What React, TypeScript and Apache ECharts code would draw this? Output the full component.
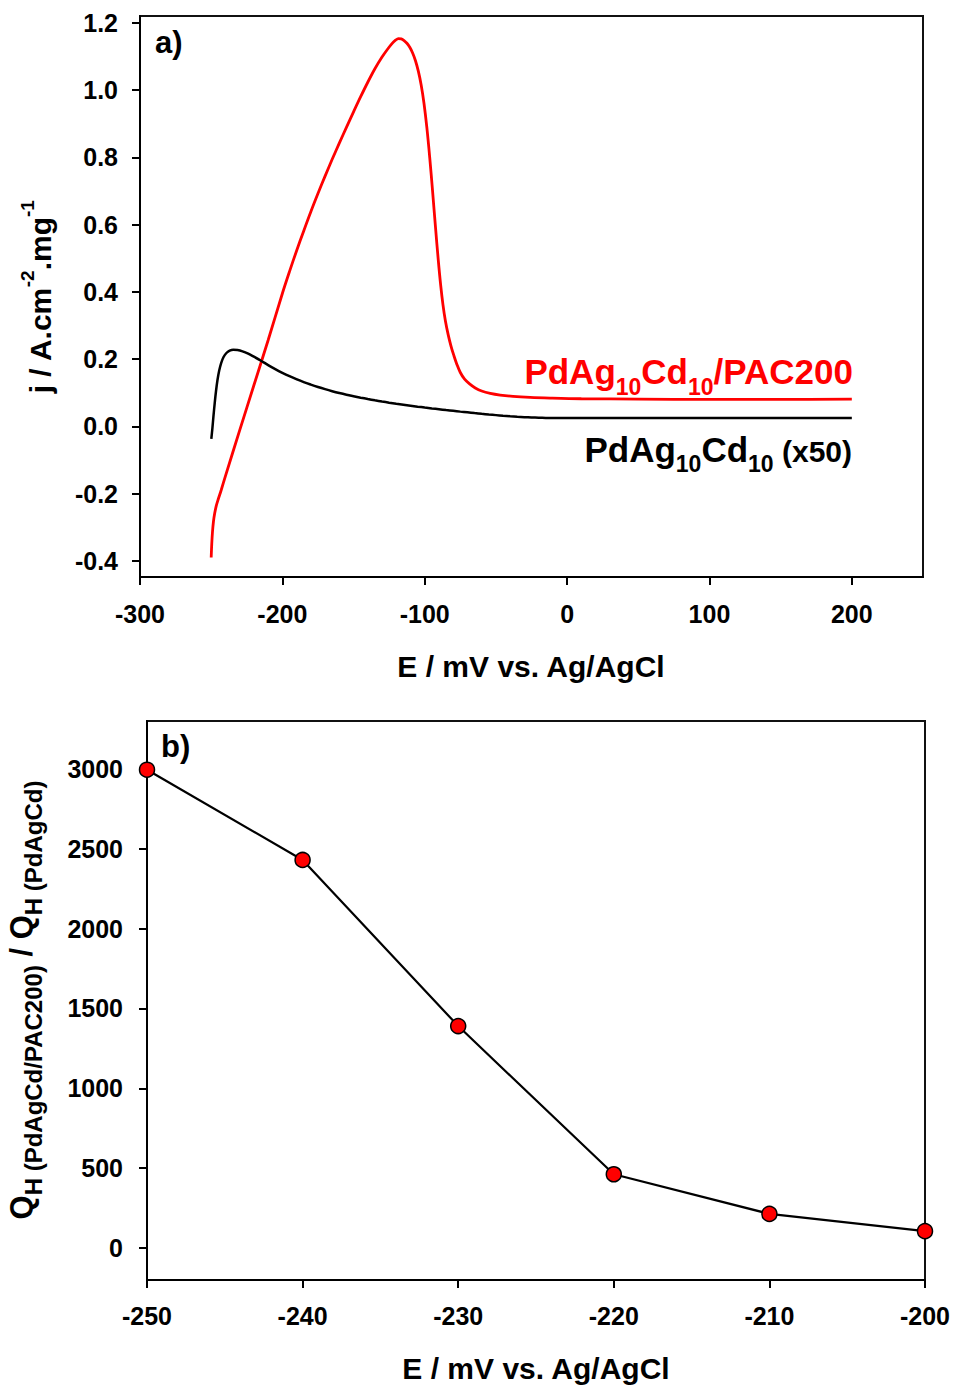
import React, { useEffect, useRef } from "react";
import * as echarts from "echarts";

const FONT = '"Liberation Sans", Arial, Helvetica, sans-serif';

// ---------- Panel a) : j vs E ----------
const aXTicks = [-300, -200, -100, 0, 100, 200];
const aYTicks = [-0.4, -0.2, 0, 0.2, 0.4, 0.6, 0.8, 1.0, 1.2];

// PdAg10Cd10/PAC200 (red)  [E / mV, j / A cm-2 mg-1]
const redCurve: [number, number][] = [
  [-250, -0.39], [-249.6, -0.35], [-249.1, -0.315], [-248.4, -0.283], [-247.5, -0.258],
  [-246.4, -0.236], [-245, -0.216], [-243, -0.19], [-240, -0.148], [-230, -0.012],
  [-220, 0.122], [-210, 0.256], [-200, 0.395], [-195, 0.46], [-190, 0.522],
  [-185, 0.581], [-180, 0.638], [-175, 0.692], [-170, 0.744], [-165, 0.794],
  [-160, 0.842], [-155, 0.889], [-150, 0.935], [-145, 0.98], [-140, 1.023],
  [-135, 1.063], [-130, 1.098], [-126, 1.122], [-123, 1.138], [-120.5, 1.148],
  [-118.5, 1.153], [-116.5, 1.152], [-114.5, 1.147], [-112.5, 1.139], [-110.5, 1.127],
  [-108.5, 1.11], [-106.5, 1.087], [-104.5, 1.056], [-102.5, 1.015], [-100.5, 0.96],
  [-98.5, 0.888], [-96.5, 0.8], [-94.5, 0.7], [-92.5, 0.595], [-90.5, 0.495],
  [-88.8, 0.42], [-87.2, 0.362], [-85.5, 0.314], [-83.5, 0.272], [-81.5, 0.238],
  [-79.5, 0.21], [-77.4, 0.184], [-75, 0.16], [-72, 0.14], [-68.5, 0.126],
  [-64.5, 0.114], [-60, 0.105], [-54, 0.098], [-47, 0.093], [-38, 0.089],
  [-26, 0.086], [-12, 0.084], [10, 0.082], [50, 0.081], [100, 0.08],
  [150, 0.08], [200, 0.081],
];

// PdAg10Cd10 (x50) (black)
const blackCurve: [number, number][] = [
  [-249.9, -0.037], [-249.2, -0.008], [-248.4, 0.03], [-247.5, 0.07], [-246.6, 0.105],
  [-245.6, 0.137], [-244.4, 0.165], [-243, 0.188], [-241.3, 0.206], [-239.3, 0.218],
  [-237, 0.225], [-234.5, 0.228], [-231.5, 0.227], [-228, 0.223], [-224, 0.216],
  [-220, 0.207], [-215, 0.195], [-210, 0.182], [-205, 0.17], [-200, 0.159],
  [-195, 0.149], [-190, 0.14], [-185, 0.1315], [-180, 0.124], [-175, 0.117],
  [-170, 0.1105], [-165, 0.1045], [-160, 0.099], [-155, 0.094], [-150, 0.0895],
  [-145, 0.0852], [-140, 0.0812], [-135, 0.0774], [-130, 0.0738], [-125, 0.0704],
  [-120, 0.0672], [-115, 0.0642], [-110, 0.0613], [-105, 0.0585], [-100, 0.0558],
  [-95, 0.0532], [-90, 0.0507], [-85, 0.0483], [-80, 0.046], [-75, 0.0437],
  [-70, 0.0415], [-65, 0.0393], [-60, 0.0372], [-55, 0.0352], [-50, 0.0333],
  [-45, 0.0315], [-40, 0.0299], [-35, 0.0285], [-30, 0.0273], [-25, 0.0263],
  [-20, 0.0256], [-15, 0.0251], [-10, 0.0248], [0, 0.0246], [50, 0.0245],
  [100, 0.0245], [150, 0.0246], [200, 0.0248],
];

// ---------- Panel b) : charge ratio vs E ----------
const bXTicks = [-250, -240, -230, -220, -210, -200];
const bYTicks = [0, 500, 1000, 1500, 2000, 2500, 3000];
const bPotential = [-250, -240, -230, -220, -210, -200];
const bRatio = [2995, 2430, 1390, 462, 214, 106];

const tickLabel = {
  color: "#000",
  fontSize: 25,
  fontWeight: "bold" as const,
  fontFamily: FONT,
};
const axisLineStyle = { show: true, onZero: false, lineStyle: { color: "#000", width: 2 } };
const tickStyle = { color: "#000", width: 2 };

function buildOption() {
  return {
    animation: false,
    backgroundColor: "#fff",
    grid: [
      { left: 140, top: 16, width: 783, height: 561, show: true, borderColor: "#111", borderWidth: 2, backgroundColor: "transparent" },
      { left: 147, top: 721, width: 778, height: 559, show: true, borderColor: "#111", borderWidth: 2, backgroundColor: "transparent" },
    ],
    xAxis: [
      {
        type: "value", gridIndex: 0, min: -300, max: 250,
        axisLine: axisLineStyle,
        axisTick: { show: true, inside: false, length: 8, lineStyle: tickStyle, customValues: aXTicks },
        axisLabel: { ...tickLabel, margin: 24, customValues: aXTicks, formatter: (v: number) => String(v) },
        splitLine: { show: false },
      },
      {
        type: "value", gridIndex: 1, min: -250, max: -200,
        axisLine: axisLineStyle,
        axisTick: { show: true, inside: false, length: 8, lineStyle: tickStyle, customValues: bXTicks },
        axisLabel: { ...tickLabel, margin: 23, customValues: bXTicks, formatter: (v: number) => String(v) },
        splitLine: { show: false },
      },
    ],
    yAxis: [
      {
        type: "value", gridIndex: 0, min: -0.448, max: 1.22,
        axisLine: axisLineStyle,
        axisTick: { show: true, inside: false, length: 8, lineStyle: tickStyle, customValues: aYTicks },
        axisLabel: { ...tickLabel, margin: 22, customValues: aYTicks, formatter: (v: number) => v.toFixed(1) },
        splitLine: { show: false },
      },
      {
        type: "value", gridIndex: 1, min: -200, max: 3300,
        axisLine: axisLineStyle,
        axisTick: { show: true, inside: false, length: 8, lineStyle: tickStyle, customValues: bYTicks },
        axisLabel: { ...tickLabel, margin: 24, customValues: bYTicks, formatter: (v: number) => String(v) },
        splitLine: { show: false },
      },
    ],
    series: [
      {
        name: "PdAg10Cd10/PAC200", type: "line", xAxisIndex: 0, yAxisIndex: 0,
        data: redCurve, showSymbol: false, smooth: 0.35,
        lineStyle: { color: "#ff0000", width: 2.8 }, itemStyle: { color: "#ff0000" },
      },
      {
        name: "PdAg10Cd10 (x50)", type: "line", xAxisIndex: 0, yAxisIndex: 0,
        data: blackCurve, showSymbol: false, smooth: 0.35,
        lineStyle: { color: "#000", width: 2.5 }, itemStyle: { color: "#000" },
      },
      {
        name: "QH ratio", type: "line", xAxisIndex: 1, yAxisIndex: 1,
        data: bPotential.map((e, i) => [e, bRatio[i]]),
        symbol: "circle", symbolSize: 15, clip: false,
        lineStyle: { color: "#000", width: 2.2 },
        itemStyle: { color: "#ff0000", borderColor: "#000", borderWidth: 1.5 },
        z: 5,
      },
    ],
    graphic: [
      // panel labels
      { type: "text", x: 155, y: 42.8, style: { text: "a)", font: `bold 31px ${FONT}`, fill: "#000", align: "left", verticalAlign: "middle" } },
      { type: "text", x: 161, y: 746, style: { text: "b)", font: `bold 31px ${FONT}`, fill: "#000", align: "left", verticalAlign: "middle" } },
      // x axis titles
      { type: "text", x: 531, y: 666, style: { text: "E / mV vs. Ag/AgCl", font: `bold 30px ${FONT}`, fill: "#000", align: "center", verticalAlign: "middle" } },
      { type: "text", x: 536, y: 1368, style: { text: "E / mV vs. Ag/AgCl", font: `bold 30px ${FONT}`, fill: "#000", align: "center", verticalAlign: "middle" } },
      // y axis title a)
      {
        type: "text", x: 17.6, y: 297, rotation: Math.PI / 2,
        style: {
          text: "{m|j / A.cm}{s|-2}{m|.mg}{s|-1}",
          align: "center", verticalAlign: "top", fill: "#000",
          rich: {
            m: { fontSize: 30, fontWeight: "bold", fontFamily: FONT, fill: "#000", verticalAlign: "top", padding: [8, 0, 0, 0] },
            s: { fontSize: 19, fontWeight: "bold", fontFamily: FONT, fill: "#000", verticalAlign: "top" },
          },
        },
      },
      // y axis title b)
      {
        type: "text", x: 5.5, y: 1000, rotation: Math.PI / 2,
        style: {
          text: "{m|Q}{s|H (PdAgCd/PAC200)}{m| / Q}{s|H (PdAgCd)}",
          align: "center", verticalAlign: "top", fill: "#000",
          rich: {
            m: { fontSize: 31, fontWeight: "bold", fontFamily: FONT, fill: "#000", verticalAlign: "top" },
            s: { fontSize: 24, fontWeight: "bold", fontFamily: FONT, fill: "#000", verticalAlign: "top", padding: [16, 0, 0, 0] },
          },
        },
      },
      // curve labels
      {
        type: "text", x: 853, y: 354,
        style: {
          text: "{m|PdAg}{s|10}{m|Cd}{s|10}{m|/PAC200}",
          align: "right", verticalAlign: "top", fill: "#ff0000",
          rich: {
            m: { fontSize: 35, fontWeight: "bold", fontFamily: FONT, fill: "#ff0000", verticalAlign: "top" },
            s: { fontSize: 23, fontWeight: "bold", fontFamily: FONT, fill: "#ff0000", verticalAlign: "top", padding: [21.5, 0, 0, 0] },
          },
        },
      },
      {
        type: "text", x: 852, y: 432.3,
        style: {
          text: "{m|PdAg}{s|10}{m|Cd}{s|10}{p| (x50)}",
          align: "right", verticalAlign: "top", fill: "#000",
          rich: {
            m: { fontSize: 35, fontWeight: "bold", fontFamily: FONT, fill: "#000", verticalAlign: "top" },
            s: { fontSize: 23, fontWeight: "bold", fontFamily: FONT, fill: "#000", verticalAlign: "top", padding: [20, 0, 0, 0] },
            p: { fontSize: 30, fontWeight: "bold", fontFamily: FONT, fill: "#000", verticalAlign: "top", padding: [4.2, 0, 0, 0] },
          },
        },
      },
    ],
  };
}

export default function App() {
  const ref = useRef<HTMLDivElement>(null);
  useEffect(() => {
    document.body.style.margin = "0";
    const el = ref.current!;
    const chart = echarts.init(el, null, { renderer: "svg" });
    chart.setOption(buildOption() as any);
    return () => chart.dispose();
  }, []);
  return <div ref={ref} style={{ width: 956, height: 1388, background: "#fff" }} />;
}
